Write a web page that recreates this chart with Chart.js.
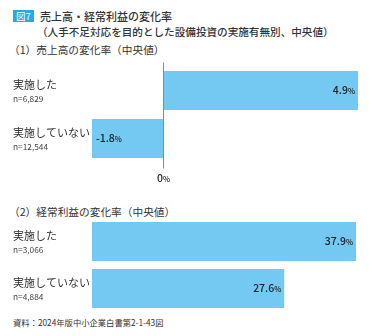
<!DOCTYPE html>
<html><head><meta charset="utf-8">
<script src="https://cdn.jsdelivr.net/npm/chart.js@4/dist/chart.umd.min.js"></script>
<style>
html,body{margin:0;padding:0;background:#fff;}
body{width:370px;height:336px;position:relative;overflow:hidden;font-family:"Noto Sans CJK JP",sans-serif;color:#333;}
.t{position:absolute;white-space:nowrap;}
#badge{left:13px;top:10px;width:21px;height:12px;background:#2aa8e0;color:#fff;font-size:9.5px;line-height:12px;text-align:center;}
canvas{position:absolute;left:0;}
</style></head><body>
<div id="badge" class="t">図7</div>
<div class="t" style="left:40px;top:8px;font-size:11px;font-weight:500;">売上高・経常利益の変化率</div>
<div class="t" style="left:37px;top:24px;font-size:10.6px;font-weight:500;">（人手不足対応を目的とした設備投資の実施有無別、中央値）</div>
<div class="t" style="left:9px;top:42px;font-size:10.7px;">（1）売上高の変化率（中央値）</div>
<div class="t" style="left:9px;top:204px;font-size:10.7px;">（2）経常利益の変化率（中央値）</div>
<div class="t" style="left:13px;top:316px;font-size:8.3px;">資料：2024年版中小企業白書第2-1-43図</div>
<div style="position:absolute;left:0;top:60px;width:370px;height:130px;"><canvas id="c1"></canvas></div>
<div style="position:absolute;left:0;top:215px;width:370px;height:105px;"><canvas id="c2"></canvas></div>
<script>
const categories = ["実施した", "実施していない"];
const salesN = ["n=6,829", "n=12,544"];
const salesValues = [4.9, -1.8];
const profitN = ["n=3,066", "n=4,884"];
const profitValues = [37.9, 27.6];
const zeroTick = "0";

const BAR = "#73c9f1";
const FONT = '"Noto Sans CJK JP", sans-serif';

function drawPct(ctx, text, x, y, align) {
  ctx.save();
  ctx.textBaseline = "middle";
  ctx.fillStyle = "#222";
  const big = "500 10.5px " + FONT, small = "500 7.5px " + FONT;
  ctx.font = big; const w1 = ctx.measureText(text).width;
  ctx.font = small; const w2 = ctx.measureText("%").width;
  let sx = align === "right" ? x - w1 - w2 : (align === "center" ? x - (w1 + w2) / 2 : x);
  ctx.textAlign = "left";
  ctx.font = big; ctx.fillText(text, sx, y);
  ctx.font = small; ctx.fillText("%", sx + w1, y + 1);
  ctx.restore();
}

function makeLabelsPlugin(nLabels, zeroLine) {
  return {
    id: "lbl",
    afterDatasetsDraw(chart) {
      const ctx = chart.ctx, ys = chart.scales.y, xs = chart.scales.x;
      const meta = chart.getDatasetMeta(0);
      if (zeroLine) {
        const x0 = Math.round(xs.getPixelForValue(0)) + 0.5;
        ctx.save();
        ctx.strokeStyle = "#8a8a8a"; ctx.lineWidth = 1;
        ctx.beginPath(); ctx.moveTo(x0, chart.chartArea.top - 4); ctx.lineTo(x0, chart.chartArea.bottom + 6); ctx.stroke();
        ctx.restore();
        drawPct(ctx, zeroTick, x0, chart.chartArea.bottom + 16, "center");
      }
      categories.forEach((c, i) => {
        const y = ys.getPixelForValue(i);
        ctx.save();
        ctx.fillStyle = "#333"; ctx.textAlign = "left"; ctx.textBaseline = "middle";
        ctx.font = "11px " + FONT; ctx.fillText(c, 13, y - 6);
        ctx.fillStyle = "#444";
        ctx.font = "8.3px " + FONT; ctx.fillText(nLabels[i], 13, y + 8);
        ctx.restore();
        const v = chart.data.datasets[0].data[i];
        const bar = meta.data[i];
        const txt = v.toFixed(1);
        if (v >= 0) drawPct(ctx, txt, bar.x - 3, y, "right");
        else drawPct(ctx, txt, bar.x + 4, y, "left");
      });
    }
  };
}

function baseOptions(min, max, pad) {
  return {
    indexAxis: "y",
    responsive: true, maintainAspectRatio: false, animation: false,
    layout: { padding: pad },
    plugins: { legend: { display: false }, tooltip: { enabled: false } },
    scales: {
      x: { display: false, min: min, max: max },
      y: { display: false, offset: true }
    }
  };
}

new Chart(document.getElementById("c1"), {
  type: "bar",
  data: { labels: categories, datasets: [{ data: salesValues, backgroundColor: BAR, borderWidth: 0, categoryPercentage: 1, barPercentage: 0.81 }] },
  options: baseOptions(Math.min(...salesValues), Math.max(...salesValues), { left: 92, right: 12, top: 6.5, bottom: 27.5 }),
  plugins: [makeLabelsPlugin(salesN, true)]
});

new Chart(document.getElementById("c2"), {
  type: "bar",
  data: { labels: categories, datasets: [{ data: profitValues, backgroundColor: BAR, borderWidth: 0, categoryPercentage: 1, barPercentage: 0.83 }] },
  options: baseOptions(0, Math.max(...profitValues), { left: 92, right: 14, top: 3, bottom: 8 }),
  plugins: [makeLabelsPlugin(profitN, false)]
});
</script>
</body></html>
